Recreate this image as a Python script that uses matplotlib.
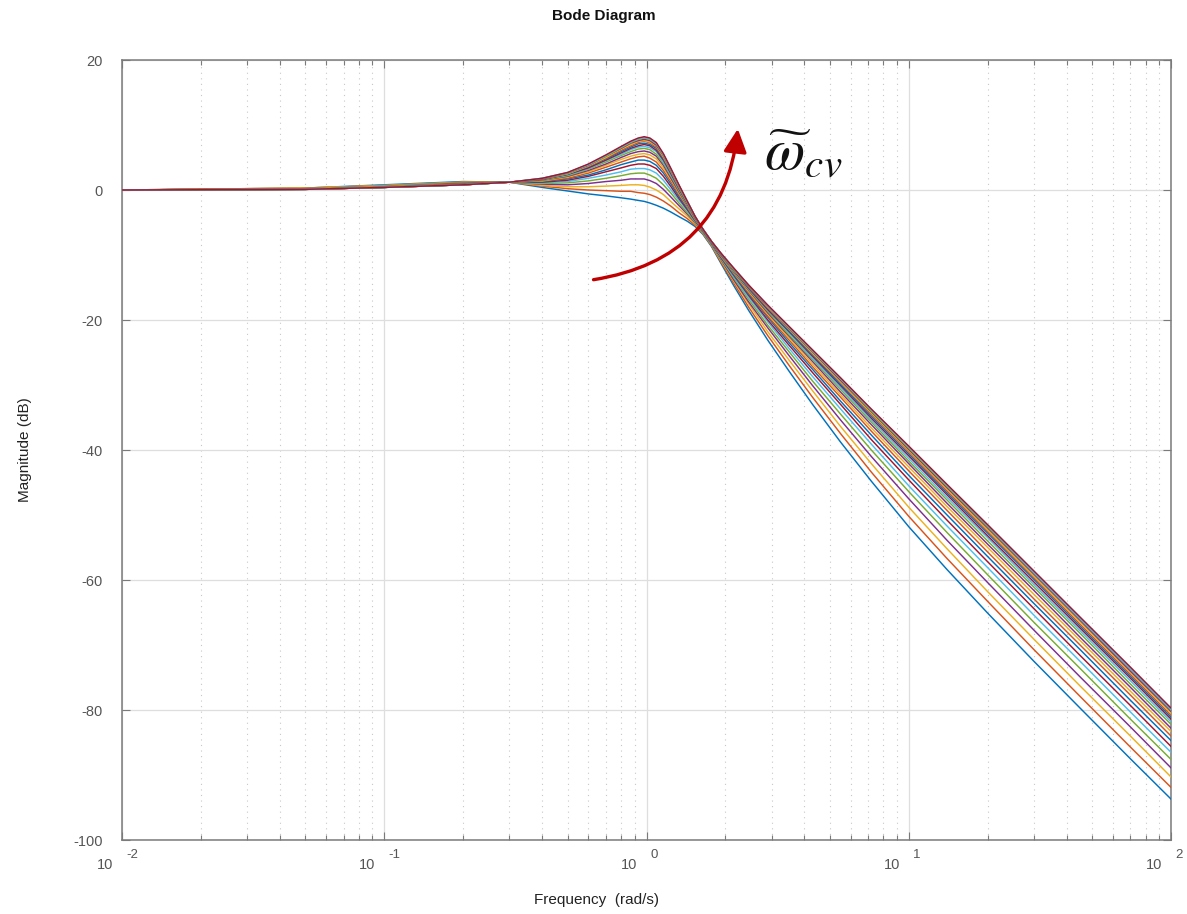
import matplotlib
matplotlib.use("Agg")
import matplotlib.pyplot as plt
import matplotlib.transforms as mtransforms
from matplotlib.patches import FancyArrowPatch

plt.rcParams['font.family'] = ['Liberation Sans', 'DejaVu Sans']
plt.rcParams['axes.unicode_minus'] = False

# ---------------- data ----------------
freq = [0.01, 0.05, 0.1, 0.2, 0.3, 0.4, 0.5, 0.6, 0.7, 0.8, 0.87, 0.93, 0.98, 1.03, 1.09, 1.16,
        1.24, 1.33, 1.43, 1.53, 1.64, 1.77, 1.93, 2.15, 2.45, 2.9, 3.5, 4.3, 5.5, 7.2, 10, 14,
        20, 30, 45, 70, 100]

mag_01 = [0.0, 0.3, 0.8, 1.3, 1.2, 0.4, -0.15, -0.6, -0.9, -1.2, -1.4, -1.6, -1.75, -2.0, -2.35, -2.8, -3.4, -4.1, -4.8, -5.6, -6.8, -8.7, -11.4, -14.7, -18.5, -23.1, -27.9, -33.0, -38.8, -44.8, -51.8, -58.4, -65.1, -72.5, -79.7, -87.5, -93.7]
mag_02 = [0.0, 0.3, 0.7, 1.2, 1.2, 0.6, 0.2, 0.0, -0.1, -0.2, -0.2, -0.4, -0.5, -0.7, -1.1, -1.7, -2.5, -3.5, -4.4, -5.4, -6.7, -8.6, -11.2, -14.3, -18.0, -22.4, -27.0, -31.9, -37.5, -43.4, -50.2, -56.7, -63.3, -70.7, -77.9, -85.7, -91.9]
mag_03 = [0.0, 0.3, 0.7, 1.2, 1.2, 0.7, 0.5, 0.5, 0.6, 0.7, 0.8, 0.8, 0.7, 0.45, 0.0, -0.7, -1.8, -2.9, -4.0, -5.2, -6.6, -8.5, -11.0, -14.0, -17.5, -21.8, -26.2, -30.9, -36.4, -42.1, -48.8, -55.2, -61.8, -69.1, -76.3, -84.0, -90.3]
mag_04 = [0.0, 0.2, 0.6, 1.1, 1.2, 0.9, 0.8, 1.0, 1.3, 1.5, 1.7, 1.7, 1.7, 1.45, 1.0, 0.1, -1.1, -2.4, -3.7, -5.0, -6.5, -8.4, -10.8, -13.8, -17.2, -21.2, -25.5, -30.1, -35.4, -41.0, -47.5, -53.9, -60.4, -67.7, -74.9, -82.6, -88.9]
mag_05 = [0.0, 0.2, 0.6, 1.1, 1.2, 1.0, 1.1, 1.4, 1.8, 2.2, 2.5, 2.6, 2.6, 2.3, 1.8, 0.8, -0.5, -2.0, -3.5, -4.9, -6.5, -8.4, -10.7, -13.5, -16.8, -20.8, -24.9, -29.4, -34.5, -40.0, -46.4, -52.7, -59.2, -66.5, -73.6, -81.4, -87.6]
mag_06 = [0.0, 0.2, 0.6, 1.0, 1.2, 1.1, 1.3, 1.8, 2.3, 2.8, 3.2, 3.3, 3.3, 3.1, 2.6, 1.5, 0.0, -1.6, -3.2, -4.8, -6.4, -8.3, -10.6, -13.3, -16.5, -20.3, -24.4, -28.7, -33.7, -39.1, -45.5, -51.7, -58.1, -65.4, -72.5, -80.3, -86.5]
mag_07 = [0.0, 0.2, 0.5, 1.0, 1.2, 1.2, 1.5, 2.1, 2.8, 3.4, 3.8, 4.0, 4.0, 3.8, 3.3, 2.1, 0.5, -1.3, -3.0, -4.7, -6.3, -8.2, -10.5, -13.1, -16.2, -20.0, -23.9, -28.1, -33.0, -38.4, -44.6, -50.8, -57.2, -64.4, -71.6, -79.3, -85.6]
mag_08 = [0.0, 0.2, 0.5, 0.9, 1.2, 1.3, 1.7, 2.3, 3.1, 3.9, 4.3, 4.6, 4.6, 4.4, 3.8, 2.6, 0.9, -1.0, -2.8, -4.6, -6.3, -8.2, -10.4, -13.0, -16.0, -19.6, -23.5, -27.6, -32.5, -37.7, -43.9, -50.0, -56.4, -63.6, -70.7, -78.5, -84.7]
mag_09 = [0.0, 0.2, 0.5, 0.9, 1.2, 1.4, 1.8, 2.6, 3.5, 4.3, 4.8, 5.1, 5.2, 4.9, 4.3, 3.0, 1.25, -0.7, -2.6, -4.5, -6.2, -8.1, -10.3, -12.8, -15.8, -19.4, -23.1, -27.2, -31.9, -37.1, -43.2, -49.3, -55.7, -62.9, -70.0, -77.7, -84.0]
mag_10 = [0.0, 0.2, 0.5, 0.9, 1.2, 1.4, 2.0, 2.8, 3.8, 4.7, 5.2, 5.5, 5.6, 5.4, 4.8, 3.4, 1.6, -0.5, -2.5, -4.4, -6.2, -8.1, -10.2, -12.7, -15.6, -19.1, -22.8, -26.8, -31.5, -36.6, -42.6, -48.7, -55.0, -62.2, -69.3, -77.1, -83.3]
mag_11 = [0.0, 0.1, 0.4, 0.9, 1.2, 1.5, 2.1, 3.0, 4.0, 5.0, 5.6, 5.9, 6.0, 5.8, 5.2, 3.8, 1.8, -0.3, -2.4, -4.3, -6.2, -8.1, -10.1, -12.6, -15.4, -18.9, -22.5, -26.4, -31.1, -36.1, -42.1, -48.2, -54.5, -61.6, -68.8, -76.5, -82.8]
mag_12 = [0.0, 0.1, 0.4, 0.8, 1.2, 1.5, 2.2, 3.2, 4.3, 5.3, 5.9, 6.3, 6.4, 6.2, 5.5, 4.1, 2.1, -0.1, -2.3, -4.3, -6.1, -8.0, -10.1, -12.5, -15.3, -18.7, -22.3, -26.1, -30.7, -35.7, -41.7, -47.7, -54.0, -61.1, -68.2, -76.0, -82.2]
mag_13 = [0.0, 0.1, 0.4, 0.8, 1.2, 1.6, 2.3, 3.3, 4.5, 5.5, 6.2, 6.6, 6.7, 6.5, 5.9, 4.3, 2.3, 0.1, -2.2, -4.2, -6.1, -8.0, -10.0, -12.4, -15.2, -18.5, -22.0, -25.9, -30.4, -35.4, -41.3, -47.3, -53.5, -60.7, -67.8, -75.5, -81.8]
mag_14 = [0.0, 0.1, 0.4, 0.8, 1.2, 1.6, 2.4, 3.4, 4.6, 5.7, 6.4, 6.8, 7.0, 6.8, 6.1, 4.6, 2.5, 0.2, -2.1, -4.2, -6.1, -8.0, -10.0, -12.3, -15.1, -18.4, -21.8, -25.6, -30.1, -35.1, -40.9, -46.9, -53.2, -60.3, -67.4, -75.1, -81.4]
mag_15 = [0.0, 0.1, 0.4, 0.8, 1.2, 1.7, 2.4, 3.6, 4.8, 5.9, 6.6, 7.1, 7.2, 7.0, 6.4, 4.8, 2.65, 0.3, -2.0, -4.2, -6.1, -8.0, -10.0, -12.3, -15.0, -18.2, -21.7, -25.4, -29.9, -34.8, -40.6, -46.6, -52.8, -59.9, -67.1, -74.8, -81.1]
mag_16 = [0.0, 0.1, 0.4, 0.8, 1.2, 1.7, 2.5, 3.7, 4.9, 6.1, 6.8, 7.3, 7.5, 7.25, 6.6, 5.0, 2.8, 0.4, -1.9, -4.1, -6.1, -8.0, -9.9, -12.2, -14.9, -18.1, -21.5, -25.2, -29.6, -34.5, -40.3, -46.3, -52.5, -59.6, -66.8, -74.5, -80.8]
mag_17 = [0.0, 0.1, 0.4, 0.8, 1.2, 1.7, 2.5, 3.7, 5.0, 6.3, 7.0, 7.5, 7.6, 7.4, 6.8, 5.1, 2.9, 0.5, -1.9, -4.1, -6.0, -7.9, -9.9, -12.2, -14.8, -18.0, -21.4, -25.1, -29.5, -34.3, -40.1, -46.0, -52.3, -59.4, -66.5, -74.2, -80.5]
mag_18 = [0.0, 0.1, 0.4, 0.8, 1.2, 1.7, 2.6, 3.8, 5.2, 6.4, 7.2, 7.6, 7.8, 7.6, 6.9, 5.3, 3.0, 0.6, -1.8, -4.1, -6.0, -7.9, -9.9, -12.1, -14.8, -17.9, -21.3, -24.9, -29.3, -34.1, -39.9, -45.8, -52.0, -59.1, -66.2, -74.0, -80.2]
mag_19 = [0.0, 0.1, 0.4, 0.8, 1.2, 1.8, 2.6, 3.9, 5.2, 6.5, 7.3, 7.8, 8.0, 7.8, 7.1, 5.4, 3.1, 0.7, -1.8, -4.0, -6.0, -7.9, -9.8, -12.1, -14.7, -17.8, -21.2, -24.8, -29.1, -34.0, -39.7, -45.6, -51.8, -58.9, -66.0, -73.7, -80.0]
mag_20 = [0.0, 0.1, 0.4, 0.8, 1.2, 1.8, 2.7, 3.9, 5.3, 6.6, 7.4, 7.9, 8.1, 7.9, 7.2, 5.5, 3.2, 0.7, -1.7, -4.0, -6.0, -7.9, -9.8, -12.0, -14.6, -17.8, -21.1, -24.7, -29.0, -33.8, -39.5, -45.4, -51.6, -58.8, -65.9, -73.6, -79.9]
mag_21 = [0.0, 0.1, 0.4, 0.8, 1.2, 1.8, 2.7, 4.0, 5.4, 6.7, 7.5, 8.0, 8.2, 8.0, 7.3, 5.6, 3.3, 0.8, -1.7, -4.0, -6.0, -7.9, -9.8, -12.0, -14.6, -17.7, -21.0, -24.6, -28.9, -33.7, -39.4, -45.3, -51.5, -58.6, -65.7, -73.4, -79.7]

curves = [mag_01, mag_02, mag_03, mag_04, mag_05, mag_06, mag_07, mag_08, mag_09, mag_10,
          mag_11, mag_12, mag_13, mag_14, mag_15, mag_16, mag_17, mag_18, mag_19, mag_20, mag_21]

y_ticks = [20, 0, -20, -40, -60, -80, -100]
x_ticks = [1e-2, 1e-1, 1e0, 1e1, 1e2]
x_tick_base = "10"
x_tick_exps = ["-2", "-1", "0", "1", "2"]

title = "Bode Diagram"
x_label = "Frequency  (rad/s)"
y_label = "Magnitude (dB)"
annot = r'$\widetilde{\omega}_{cv}$'

# arrow endpoints and annotation anchor (frequency, dB)
arrow_start = (0.628, -13.8)
arrow_end = (2.23, 9.4)
annot_pos = (2.8, 3.1)

matlab_colors = ['#0072BD', '#D95319', '#EDB120', '#7E2F8E', '#77AC30', '#4DBEEE', '#A2142F']

# ---------------- figure ----------------
fig = plt.figure(figsize=(11.87, 9.14), dpi=100)
ax = fig.add_axes([122/1187, 1-840/914, (1171-122)/1187, (840-60)/914])

for i, c in enumerate(curves):
    ax.semilogx(freq, c, color=matlab_colors[i % 7], lw=1.05, solid_joinstyle='round', zorder=3)

ax.set_xlim(1e-2, 1e2)
ax.set_ylim(-100, 20)
ax.set_yticks(y_ticks)
ax.set_xticks(x_ticks)
ax.set_xticklabels([])

ax.grid(True, which='major', axis='both', color='#dedede', lw=0.9, ls='-', zorder=0)
ax.grid(True, which='minor', axis='x', color='#c8c8c8', lw=0.8, ls=(0, (1, 4)), zorder=0)
ax.set_axisbelow(True)

for s in ax.spines.values():
    s.set_color('#7a7a7a')
    s.set_linewidth(1.1)

ax.tick_params(which='both', direction='in', top=True, right=True, colors='#7a7a7a',
               labelcolor='#555555', labelsize=10.5)
ax.tick_params(which='major', length=6, width=0.8)
ax.tick_params(which='minor', length=3.5, width=0.8)
ax.tick_params(axis='y', which='major', pad=14)

# MATLAB-style "10^n" tick labels: base and raised exponent
base_tr = mtransforms.blended_transform_factory(ax.transData, ax.transAxes)
px = 72.0 / fig.dpi
for xt, ex in zip(x_ticks, x_tick_exps):
    tb = mtransforms.offset_copy(base_tr, fig=fig, x=-17 * px, y=-25 * px, units='points')
    ax.text(xt, 0, x_tick_base, transform=tb, ha='center', va='center',
            fontsize=10.5, color='#555555', clip_on=False)
    te = mtransforms.offset_copy(base_tr, fig=fig, x=4 * px, y=-15 * px, units='points')
    ax.text(xt, 0, ex, transform=te, ha='left', va='center',
            fontsize=9.5, color='#555555', clip_on=False)

fig.text(604/1187, 1-16/914, title, ha='center', va='center', fontsize=11, fontweight='bold', color='#111111')
fig.text(597/1187, 1-900/914, x_label, ha='center', va='center', fontsize=11, color='#222222')
fig.text(25/1187, 1-450/914, y_label, ha='center', va='center', rotation=90, fontsize=11, color='#222222')

arrow = FancyArrowPatch(arrow_start, arrow_end, connectionstyle='arc3,rad=0.38',
                        arrowstyle='-|>,head_length=1.0,head_width=0.5', mutation_scale=14,
                        shrinkA=0, shrinkB=0, color='#C00000', lw=2.4, zorder=5)
ax.add_patch(arrow)

ax.text(annot_pos[0], annot_pos[1], annot, fontsize=42, math_fontfamily='stix',
        color='#111111', ha='left', va='baseline', zorder=6)

fig.savefig('out.png', dpi=100)
